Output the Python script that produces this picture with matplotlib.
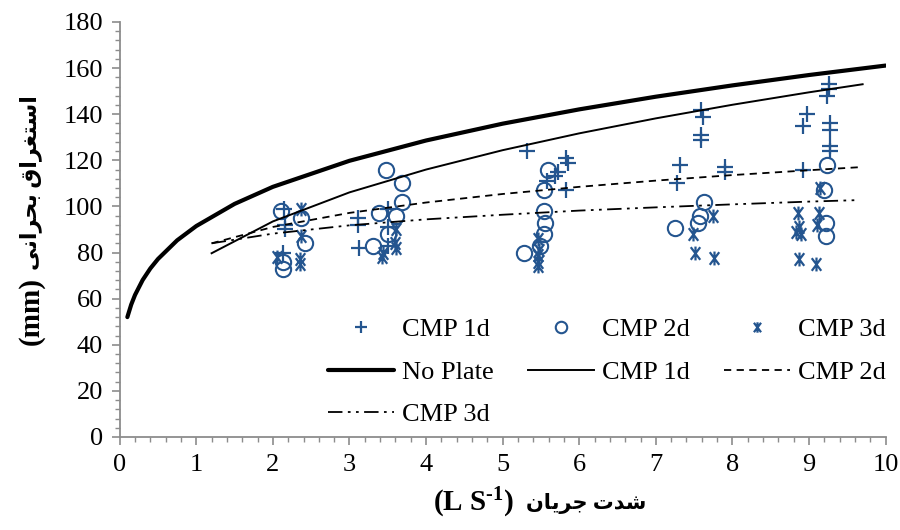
import numpy as np
import matplotlib
matplotlib.use("Agg")
import matplotlib.pyplot as plt
from matplotlib.path import Path
from matplotlib.ticker import MultipleLocator

# ---- Data ---- #
# measured points (x = discharge L/s, y = critical submergence mm)
cmp1_x = [2.14, 2.16, 2.16, 2.13, 3.11, 3.11, 3.13, 3.50, 3.50, 3.50,
          5.32, 5.83, 5.85, 5.72, 5.68, 5.58, 5.83,
          7.59, 7.61, 7.59, 7.59, 7.31, 7.28, 7.90, 7.90,
          9.26, 9.26, 9.24, 8.97, 8.92, 9.28, 9.28, 9.28, 9.28, 8.92]
cmp1_y = [99, 92, 90, 80, 95, 92, 82, 99, 91, 83,
          124, 121, 119, 115, 113, 111, 107,
          142, 139, 131, 129, 118, 110, 117, 115,
          153, 151, 148, 140, 135, 136, 133, 126, 124, 116]

cmp2_x = [2.11, 2.37, 2.42, 2.13, 2.13,
          3.48, 3.68, 3.68, 3.39, 3.61, 3.50, 3.31,
          5.59, 5.54, 5.54, 5.55, 5.54, 5.49, 5.28,
          7.63, 7.58, 7.55, 7.25,
          9.24, 9.20, 9.22, 9.22]
cmp2_y = [98, 95, 84, 76, 73,
          116, 110, 102, 97, 96, 88, 83,
          116, 107, 98, 93, 88, 83, 80,
          102, 96, 93, 90.5,
          118, 107, 93, 87]

cmp3_x = [2.37, 2.37, 2.05, 2.36, 2.36,
          3.61, 3.61, 3.42, 3.44, 3.60,
          5.46, 5.48, 5.46, 5.46, 5.46,
          7.75, 7.49, 7.51, 7.76,
          9.15, 8.85, 9.13, 8.87, 8.83, 8.90, 9.11, 8.87, 9.09]
cmp3_y = [99, 87, 78, 77, 75,
          90, 82, 78, 80, 84,
          86, 81, 79, 76, 74,
          96, 88, 80, 77.5,
          108, 97, 97, 91, 89, 88, 92, 77, 75]

# trend curves
noplate_x = [0.1, 0.15, 0.2, 0.3, 0.4, 0.5, 0.75, 1, 1.5, 2, 3, 4, 5, 6, 7, 8, 9, 10]
noplate_y = [52.0, 57.4, 61.6, 68.1, 73.1, 77.2, 85.3, 91.5, 101.1, 108.5,
             119.8, 128.6, 135.9, 142.1, 147.6, 152.5, 157.0, 161.1]
fit1_x = [1.2, 2, 3, 4, 5, 6, 7, 8, 9, 9.7]
fit1_y = [79.7, 93.5, 106.1, 116.0, 124.4, 131.7, 138.2, 144.1, 149.5, 153.0]
fit2_x = [1.2, 2, 3, 4, 5, 6, 7, 8, 9, 9.7]
fit2_y = [84.0, 91.1, 97.2, 101.7, 105.4, 108.5, 111.2, 113.6, 115.7, 117.1]
fit3_x = [1.2, 2, 3, 4, 5, 6, 7, 8, 9, 9.6]
fit3_y = [84.0, 88.2, 91.8, 94.4, 96.4, 98.2, 99.6, 100.9, 102.1, 102.7]

# Persian labels (presentation forms, visual order)
xlabel_fa = "\uFEE5\uFE8E\uFBFE\uFEAE\uFE9F \uFE95\uFEAA\uFEB7"
ylabel_fa = "\uFBFD\uFEE7\uFE8D\uFEAE\uFEA4\uFE91 \uFED5\uFE8D\uFEAE\uFED0\uFE98\uFEB3\uFE8D"

# ---- Style ---- #
plt.rcParams['font.family'] = ['Liberation Serif', 'DejaVu Sans']
plt.rcParams['mathtext.fontset'] = 'custom'
plt.rcParams['mathtext.rm'] = 'Liberation Serif:bold'
plt.rcParams['mathtext.bf'] = 'Liberation Serif:bold'
plt.rcParams['mathtext.default'] = 'bf'
blue = "#24558F"
gray = "#8c8c8c"

# asterisk marker (x with a vertical bar)
star = Path([(-0.75, -1), (0.75, 1), (-0.75, 1), (0.75, -1), (0, -1.1), (0, 1.1)],
            [Path.MOVETO, Path.LINETO, Path.MOVETO, Path.LINETO, Path.MOVETO, Path.LINETO])

fig = plt.figure(figsize=(9, 5.3), dpi=100)
ax = fig.add_axes([0.133, 0.1755, 0.851, 0.783])

h1, = ax.plot(cmp1_x, cmp1_y, ls="none", marker="+", ms=11, mew=1.6, color=blue)
h2, = ax.plot(cmp2_x, cmp2_y, ls="none", marker="o", ms=11, mew=1.5,
              mfc="none", mec=blue)
h3, = ax.plot(cmp3_x, cmp3_y, ls="none", marker=star, ms=10, mew=1.6, color=blue)

l0, = ax.plot(noplate_x, noplate_y, color="black", lw=3.0, solid_capstyle="round")
l1, = ax.plot(fit1_x, fit1_y, color="black", lw=1.4)
l2, = ax.plot(fit2_x, fit2_y, color="black", lw=1.3, ls=(0, (4, 3)))
l3, = ax.plot(fit3_x, fit3_y, color="black", lw=1.3, ls=(0, (8, 3, 1.5, 3, 1.5, 3)))

ax.set_xlim(0, 10)
ax.set_ylim(0, 180)
ax.xaxis.set_major_locator(MultipleLocator(1))
ax.xaxis.set_minor_locator(MultipleLocator(0.2))
ax.yaxis.set_major_locator(MultipleLocator(20))
ax.yaxis.set_minor_locator(MultipleLocator(4))

for s in ["top", "right"]:
    ax.spines[s].set_visible(False)
for s in ["left", "bottom"]:
    ax.spines[s].set_color(gray)
    ax.spines[s].set_linewidth(1.3)
ax.tick_params(which="major", direction="out", length=6, width=1.2, color=gray,
               labelsize=19, labelcolor="black", pad=6)
ax.tick_params(which="minor", direction="out", length=3.5, width=1.0, color=gray)

# legend, row-wise order in 3 columns
handles = [h1, l0, l3, h2, l1, h3, l2]
labels = ["CMP 1d", "No Plate", "CMP 3d", "CMP 2d", "CMP 1d", "CMP 3d", "CMP 2d"]
ax.legend(handles, labels, ncol=3, frameon=False, fontsize=19, markerscale=0.75,
          loc="upper left", bbox_to_anchor=(328 / 900, 1 - 318 / 530),
          bbox_transform=fig.transFigure, handlelength=2.5, handletextpad=0.3,
          columnspacing=1.3, labelspacing=0.72, borderaxespad=0, borderpad=0)

# axis titles: Latin part and Persian part
fig.text(514 / 900, 1 - 503 / 530, r"(L S$^{\text{-}1}$)",
         ha="right", va="center", fontsize=21, fontweight="bold")
fig.text(526 / 900, 1 - 503 / 530, xlabel_fa,
         ha="left", va="center", fontsize=15, fontweight="bold")
fig.text(31 / 900, 1 - 345 / 530, "(mm)", rotation=90,
         ha="center", va="bottom", fontsize=21, fontweight="bold")
fig.text(31 / 900, 1 - 270 / 530, ylabel_fa, rotation=90,
         ha="center", va="bottom", fontsize=16, fontweight="bold")

fig.savefig("out.png", dpi=100)
